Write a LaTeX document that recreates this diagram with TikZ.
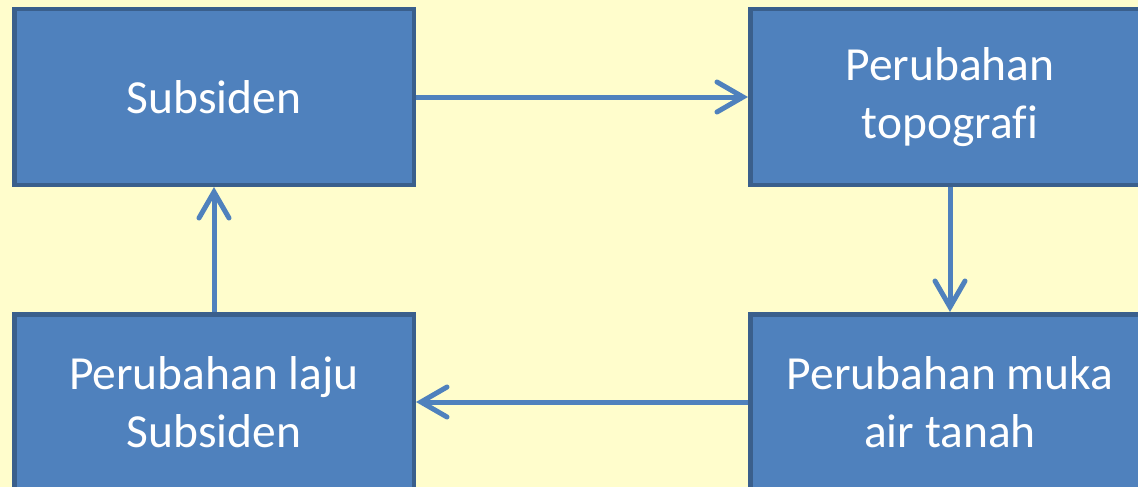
\documentclass[tikz,border=0pt]{standalone}
\usepackage{fontspec}
\setmainfont[Ligatures=CommonOff]{Carlito}
\usetikzlibrary{arrows.meta}
\definecolor{bgc}{HTML}{FFFDCC}
\definecolor{boxfill}{HTML}{4F81BD}
\definecolor{boxline}{HTML}{3A5F8C}
\definecolor{arrc}{HTML}{4F81BD}
\tikzset{
  blk/.style={draw=boxline, line width=4.5pt, fill=boxfill, minimum width=399.5pt,
    minimum height=175.5pt, inner sep=0pt, align=center, text=white,
    font=\fontsize{47.5}{58}\selectfont},
  conn/.style={draw=arrc, line width=5pt,
    -{Straight Barb[length=26pt,width=30pt,line width=5pt,line cap=round]}}
}
\begin{document}
\begin{tikzpicture}[x=1pt,y=-1pt]
\fill[bgc] (0,0) rectangle (1138,487);
\useasboundingbox (0,0) rectangle (1138,487);
\node[blk] (sub) at (214,97) {Subsiden};
\node[blk] (topo) at (950,97) {Perubahan\\topografi};
\node[blk] (laju) at (214,402) {Perubahan laju\\Subsiden};
\node[blk] (muka) at (950,402) {Perubahan muka\\air tanah};
\draw[conn] (sub.east) -- (topo.west);
\draw[conn] (topo.south) -- (muka.north);
\draw[conn] (muka.west) -- (laju.east);
\draw[conn] (laju.north) -- (sub.south);
\end{tikzpicture}
\end{document}
